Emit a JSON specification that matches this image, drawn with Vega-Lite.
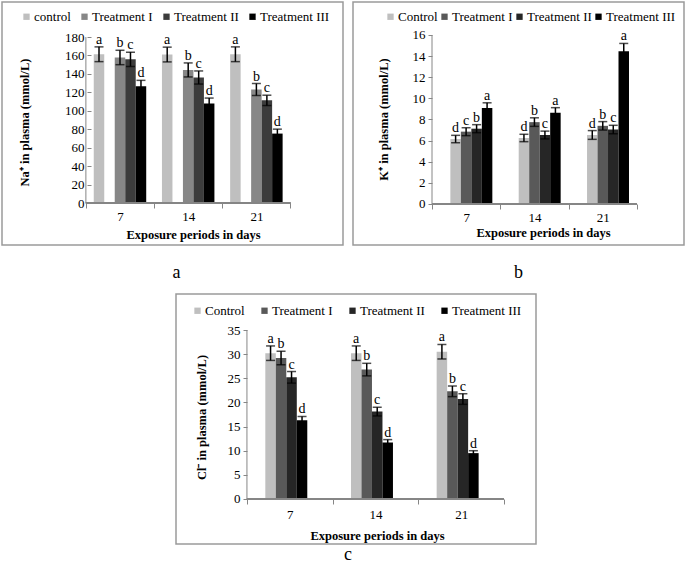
{
  "$schema": "https://vega.github.io/schema/vega-lite/v6.json",
  "background": "white",
  "padding": {"left": 1, "top": 1, "right": 0, "bottom": 0},
  "config": {
    "font": "Liberation Serif",
    "axis": {"labelFont": "Liberation Serif", "titleFont": "Liberation Serif", "labelOverlap": false},
    "legend": {"labelFont": "Liberation Serif"},
    "text": {"font": "Liberation Serif"},
    "title": {"font": "Liberation Serif"}
  },
  "datasets": {
    "na": [
      {"day": "7", "group": "control", "mean": 161.3, "lo": 153.3, "hi": 169.3, "sig": "a"},
      {"day": "7", "group": "Treatment I", "mean": 157.8, "lo": 150.0, "hi": 165.6, "sig": "b"},
      {"day": "7", "group": "Treatment II", "mean": 155.8, "lo": 148.0, "hi": 163.6, "sig": "c"},
      {"day": "7", "group": "Treatment III", "mean": 126.5, "lo": 120.0, "hi": 133.0, "sig": "d"},
      {"day": "14", "group": "control", "mean": 161.0, "lo": 153.0, "hi": 169.0, "sig": "a"},
      {"day": "14", "group": "Treatment I", "mean": 144.3, "lo": 136.7, "hi": 151.9, "sig": "b"},
      {"day": "14", "group": "Treatment II", "mean": 136.0, "lo": 129.0, "hi": 143.2, "sig": "c"},
      {"day": "14", "group": "Treatment III", "mean": 108.0, "lo": 102.0, "hi": 113.8, "sig": "d"},
      {"day": "21", "group": "control", "mean": 161.3, "lo": 153.3, "hi": 169.3, "sig": "a"},
      {"day": "21", "group": "Treatment I", "mean": 123.0, "lo": 116.5, "hi": 129.5, "sig": "b"},
      {"day": "21", "group": "Treatment II", "mean": 111.3, "lo": 105.7, "hi": 116.9, "sig": "c"},
      {"day": "21", "group": "Treatment III", "mean": 75.3, "lo": 70.5, "hi": 80.1, "sig": "d"}
    ],
    "k": [
      {"day": "7", "group": "Control", "mean": 6.15, "lo": 5.8, "hi": 6.5, "sig": "d"},
      {"day": "7", "group": "Treatment I", "mean": 6.85, "lo": 6.47, "hi": 7.22, "sig": "c"},
      {"day": "7", "group": "Treatment II", "mean": 7.13, "lo": 6.75, "hi": 7.51, "sig": "b"},
      {"day": "7", "group": "Treatment III", "mean": 9.1, "lo": 8.64, "hi": 9.58, "sig": "a"},
      {"day": "14", "group": "Control", "mean": 6.25, "lo": 5.9, "hi": 6.6, "sig": "d"},
      {"day": "14", "group": "Treatment I", "mean": 7.75, "lo": 7.35, "hi": 8.16, "sig": "b"},
      {"day": "14", "group": "Treatment II", "mean": 6.53, "lo": 6.16, "hi": 6.9, "sig": "c"},
      {"day": "14", "group": "Treatment III", "mean": 8.65, "lo": 8.18, "hi": 9.12, "sig": "a"},
      {"day": "21", "group": "Control", "mean": 6.53, "lo": 6.12, "hi": 6.95, "sig": "d"},
      {"day": "21", "group": "Treatment I", "mean": 7.4, "lo": 7.0, "hi": 7.8, "sig": "b"},
      {"day": "21", "group": "Treatment II", "mean": 7.05, "lo": 6.65, "hi": 7.45, "sig": "c"},
      {"day": "21", "group": "Treatment III", "mean": 14.45, "lo": 13.7, "hi": 15.2, "sig": "a"}
    ],
    "cl": [
      {"day": "7", "group": "Control", "mean": 30.2, "lo": 28.7, "hi": 31.7, "sig": "a"},
      {"day": "7", "group": "Treatment I", "mean": 29.2, "lo": 27.8, "hi": 30.6, "sig": "b"},
      {"day": "7", "group": "Treatment II", "mean": 25.2, "lo": 24.0, "hi": 26.4, "sig": "c"},
      {"day": "7", "group": "Treatment III", "mean": 16.3, "lo": 15.5, "hi": 17.1, "sig": "d"},
      {"day": "14", "group": "Control", "mean": 30.2, "lo": 28.7, "hi": 31.7, "sig": "a"},
      {"day": "14", "group": "Treatment I", "mean": 26.8, "lo": 25.5, "hi": 28.1, "sig": "b"},
      {"day": "14", "group": "Treatment II", "mean": 18.1, "lo": 17.2, "hi": 19.0, "sig": "c"},
      {"day": "14", "group": "Treatment III", "mean": 11.7, "lo": 11.1, "hi": 12.3, "sig": "d"},
      {"day": "21", "group": "Control", "mean": 30.5, "lo": 29.0, "hi": 32.0, "sig": "a"},
      {"day": "21", "group": "Treatment I", "mean": 22.3, "lo": 21.2, "hi": 23.4, "sig": "b"},
      {"day": "21", "group": "Treatment II", "mean": 20.7, "lo": 19.6, "hi": 21.8, "sig": "c"},
      {"day": "21", "group": "Treatment III", "mean": 9.5, "lo": 9.0, "hi": 10.0, "sig": "d"}
    ]
  },
  "vconcat": [
    {
      "hconcat": [
        {
          "width": 341, "height": 243,
          "data": {"name": "na"},
          "view": {"stroke": "#9a9a9a", "strokeWidth": 1.5, "fill": "white"},
          "title": {"text": "a", "orient": "bottom", "anchor": "middle", "offset": 33, "baseline": "alphabetic", "fontSize": 18, "fontWeight": "normal", "color": "black", "dx": 4},
          "encoding": {
            "x": {"field": "day", "type": "ordinal", "sort": ["7", "14", "21"],
              "scale": {"paddingInner": 0, "paddingOuter": 1.0833, "align": 0.615},
              "axis": {"offset": -42, "tickBand": "extent", "domain": false, "grid": false, "tickSize": 5, "tickColor": "#868686", "labelAngle": 0, "labelFontSize": 13, "labelPadding": 2, "labelColor": "black", "labelOverlap": false,
                "title": "Exposure periods in days", "titleFontSize": 12.5, "titleFontWeight": "bold", "titleX": 191, "titleY": 31, "titleBaseline": "middle", "titleAlign": "center", "titleColor": "black"}}
          },
          "layer": [
            {"mark": {"type": "bar"},
             "encoding": {
               "xOffset": {"field": "group", "type": "nominal", "sort": ["control", "Treatment I", "Treatment II", "Treatment III"], "scale": {"paddingInner": 0, "paddingOuter": 0.75}},
               "y": {"field": "mean", "type": "quantitative", "scale": {"domain": [-45.5, 217.95], "nice": false, "zero": false},
                 "axis": {"values": [0, 20, 40, 60, 80, 100, 120, 140, 160, 180], "tickCount": 30, "labelOverlap": false, "offset": -89, "domain": false, "grid": false, "tickSize": 4, "tickColor": "#868686", "labelFontSize": 13, "labelPadding": 3, "labelColor": "black",
                   "title": "Na⁺ in plasma (mmol/L)", "titleFontSize": 12.5, "titleFontWeight": "bold", "titleX": -67, "titleY": 120, "titleAngle": 270, "titleBaseline": "middle", "titleAlign": "center", "titleColor": "black"}},
               "y2": {"datum": 0},
               "color": {"field": "group", "type": "nominal", "sort": ["control", "Treatment I", "Treatment II", "Treatment III"],
                 "scale": {"domain": ["control", "Treatment I", "Treatment II", "Treatment III"], "range": ["#bfbfbf", "#878787", "#3c3c3c", "#000000"]},
                 "legend": {"orient": "none", "legendX": 18, "legendY": 8, "direction": "horizontal", "title": null, "symbolType": "square", "symbolSize": 40, "symbolStrokeWidth": 0, "labelFontSize": 13, "labelColor": "black", "labelOffset": 1, "columnPadding": 7, "padding": 0}}
             }},
            {"mark": {"type": "rule", "color": "black", "strokeWidth": 1.5},
             "encoding": {
               "xOffset": {"field": "group", "type": "nominal", "sort": ["control", "Treatment I", "Treatment II", "Treatment III"]},
               "y": {"field": "lo", "type": "quantitative"}, "y2": {"field": "hi"}}},
            {"mark": {"type": "tick", "color": "black", "size": 9, "thickness": 1.5},
             "encoding": {
               "xOffset": {"field": "group", "type": "nominal", "sort": ["control", "Treatment I", "Treatment II", "Treatment III"]},
               "y": {"field": "hi", "type": "quantitative"}}},
            {"mark": {"type": "tick", "color": "black", "size": 9, "thickness": 1.5},
             "encoding": {
               "xOffset": {"field": "group", "type": "nominal", "sort": ["control", "Treatment I", "Treatment II", "Treatment III"]},
               "y": {"field": "lo", "type": "quantitative"}}},
            {"mark": {"type": "text", "baseline": "alphabetic", "dy": -3, "fontSize": 14, "color": "black"},
             "encoding": {
               "xOffset": {"field": "group", "type": "nominal", "sort": ["control", "Treatment I", "Treatment II", "Treatment III"]},
               "y": {"field": "hi", "type": "quantitative"}, "text": {"field": "sig"}}},
            {"mark": {"type": "rect", "stroke": "#868686", "strokeWidth": 1, "fill": null},
             "encoding": {"y": {"datum": 0, "type": "quantitative"}, "y2": {"datum": 0}}},
            {"data": {"values": [{}]},
             "mark": {"type": "rule", "color": "#868686", "strokeWidth": 1},
             "encoding": {"x": {"datum": "7", "type": "ordinal", "bandPosition": 0}, "y": {"datum": 0, "type": "quantitative"}, "y2": {"datum": 180}}}
          ]
        },
        {
          "width": 331, "height": 243,
          "data": {"name": "k"},
          "view": {"stroke": "#9a9a9a", "strokeWidth": 1.5, "fill": "white"},
          "title": {"text": "b", "orient": "bottom", "anchor": "middle", "offset": 33, "baseline": "alphabetic", "fontSize": 18, "fontWeight": "normal", "color": "black", "dx": 0},
          "encoding": {
            "x": {"field": "day", "type": "ordinal", "sort": ["7", "14", "21"],
              "scale": {"paddingInner": 0, "paddingOuter": 0.922, "align": 0.627},
              "axis": {"offset": -41, "tickBand": "extent", "domain": false, "grid": false, "tickSize": 5, "tickColor": "#868686", "labelAngle": 0, "labelFontSize": 13, "labelPadding": 2, "labelColor": "black", "labelOverlap": false,
                "title": "Exposure periods in days", "titleFontSize": 12.5, "titleFontWeight": "bold", "titleX": 190, "titleY": 28, "titleBaseline": "middle", "titleAlign": "center", "titleColor": "black"}}
          },
          "layer": [
            {"mark": {"type": "bar"},
             "encoding": {
               "xOffset": {"field": "group", "type": "nominal", "sort": ["Control", "Treatment I", "Treatment II", "Treatment III"], "scale": {"paddingInner": 0, "paddingOuter": 0.733}},
               "y": {"field": "mean", "type": "quantitative", "scale": {"domain": [-3.882, 19.124], "nice": false, "zero": false},
                 "axis": {"values": [0, 2, 4, 6, 8, 10, 12, 14, 16], "tickCount": 30, "labelOverlap": false, "offset": -79, "domain": false, "grid": false, "tickSize": 4, "tickColor": "#868686", "labelFontSize": 13, "labelPadding": 3, "labelColor": "black",
                   "title": "K⁺ in plasma (mmol/L)", "titleFontSize": 12.5, "titleFontWeight": "bold", "titleX": -49, "titleY": 117, "titleAngle": 270, "titleBaseline": "middle", "titleAlign": "center", "titleColor": "black"}},
               "y2": {"datum": 0},
               "color": {"field": "group", "type": "nominal", "sort": ["Control", "Treatment I", "Treatment II", "Treatment III"],
                 "scale": {"domain": ["Control", "Treatment I", "Treatment II", "Treatment III"], "range": ["#bfbfbf", "#595959", "#262626", "#000000"]},
                 "legend": {"orient": "none", "legendX": 31, "legendY": 8, "direction": "horizontal", "title": null, "symbolType": "square", "symbolSize": 40, "symbolStrokeWidth": 0, "labelFontSize": 13, "labelColor": "black", "labelOffset": 1, "columnPadding": 0, "padding": 0}}
             }},
            {"mark": {"type": "rule", "color": "black", "strokeWidth": 1.5},
             "encoding": {
               "xOffset": {"field": "group", "type": "nominal", "sort": ["Control", "Treatment I", "Treatment II", "Treatment III"]},
               "y": {"field": "lo", "type": "quantitative"}, "y2": {"field": "hi"}}},
            {"mark": {"type": "tick", "color": "black", "size": 9, "thickness": 1.5},
             "encoding": {
               "xOffset": {"field": "group", "type": "nominal", "sort": ["Control", "Treatment I", "Treatment II", "Treatment III"]},
               "y": {"field": "hi", "type": "quantitative"}}},
            {"mark": {"type": "tick", "color": "black", "size": 9, "thickness": 1.5},
             "encoding": {
               "xOffset": {"field": "group", "type": "nominal", "sort": ["Control", "Treatment I", "Treatment II", "Treatment III"]},
               "y": {"field": "lo", "type": "quantitative"}}},
            {"mark": {"type": "text", "baseline": "alphabetic", "dy": -3, "fontSize": 14, "color": "black"},
             "encoding": {
               "xOffset": {"field": "group", "type": "nominal", "sort": ["Control", "Treatment I", "Treatment II", "Treatment III"]},
               "y": {"field": "hi", "type": "quantitative"}, "text": {"field": "sig"}}},
            {"mark": {"type": "rect", "stroke": "#868686", "strokeWidth": 1, "fill": null},
             "encoding": {"y": {"datum": 0, "type": "quantitative"}, "y2": {"datum": 0}}},
            {"data": {"values": [{}]},
             "mark": {"type": "rule", "color": "#868686", "strokeWidth": 1},
             "encoding": {"x": {"datum": "7", "type": "ordinal", "bandPosition": 0}, "y": {"datum": 0, "type": "quantitative"}, "y2": {"datum": 16}}}
          ]
        }
      ],
      "spacing": 10,
      "bounds": "flush",
      "resolve": {"scale": {"color": "independent"}, "legend": {"color": "independent"}}
    },
    {
      "hconcat": [
        {
          "width": 164, "height": 10,
          "data": {"values": []},
          "view": {"stroke": null, "fill": "white"},
          "mark": "point"
        },
        {
          "width": 360, "height": 250,
          "data": {"name": "cl"},
          "view": {"stroke": "#9a9a9a", "strokeWidth": 1.5, "fill": "white"},
          "title": {"text": "c", "orient": "bottom", "anchor": "middle", "offset": 16, "baseline": "alphabetic", "fontSize": 18, "fontWeight": "normal", "color": "black", "dx": -8},
          "encoding": {
            "x": {"field": "day", "type": "ordinal", "sort": ["7", "14", "21"],
              "scale": {"paddingInner": 0, "paddingOuter": 0.601, "align": 0.689},
              "axis": {"offset": -45, "tickBand": "extent", "domain": false, "grid": false, "tickSize": 5, "tickColor": "#868686", "labelAngle": 0, "labelFontSize": 13, "labelPadding": 4, "labelColor": "black", "labelOverlap": false,
                "title": "Exposure periods in days", "titleFontSize": 12.5, "titleFontWeight": "bold", "titleX": 201, "titleY": 36, "titleBaseline": "middle", "titleAlign": "center", "titleColor": "black"}}
          },
          "layer": [
            {"mark": {"type": "bar"},
             "encoding": {
               "xOffset": {"field": "group", "type": "nominal", "sort": ["Control", "Treatment I", "Treatment II", "Treatment III"], "scale": {"paddingInner": 0, "paddingOuter": 0.72}},
               "y": {"field": "mean", "type": "quantitative", "scale": {"domain": [-9.32, 42.456], "nice": false, "zero": false},
                 "axis": {"values": [0, 5, 10, 15, 20, 25, 30, 35], "tickCount": 30, "labelOverlap": false, "offset": -71, "domain": false, "grid": false, "tickSize": 4, "tickColor": "#868686", "labelFontSize": 13, "labelPadding": 3, "labelColor": "black",
                   "title": "Cl⁻ in plasma (mmol/L)", "titleFontSize": 12.5, "titleFontWeight": "bold", "titleX": -46, "titleY": 123, "titleAngle": 270, "titleBaseline": "middle", "titleAlign": "center", "titleColor": "black"}},
               "y2": {"datum": 0},
               "color": {"field": "group", "type": "nominal", "sort": ["Control", "Treatment I", "Treatment II", "Treatment III"],
                 "scale": {"domain": ["Control", "Treatment I", "Treatment II", "Treatment III"], "range": ["#bfbfbf", "#595959", "#262626", "#000000"]},
                 "legend": {"orient": "none", "legendX": 15, "legendY": 10, "direction": "horizontal", "title": null, "symbolType": "square", "symbolSize": 40, "symbolStrokeWidth": 0, "labelFontSize": 13, "labelColor": "black", "labelOffset": 1, "columnPadding": 13, "padding": 0}}
             }},
            {"mark": {"type": "rule", "color": "black", "strokeWidth": 1.5},
             "encoding": {
               "xOffset": {"field": "group", "type": "nominal", "sort": ["Control", "Treatment I", "Treatment II", "Treatment III"]},
               "y": {"field": "lo", "type": "quantitative"}, "y2": {"field": "hi"}}},
            {"mark": {"type": "tick", "color": "black", "size": 9, "thickness": 1.5},
             "encoding": {
               "xOffset": {"field": "group", "type": "nominal", "sort": ["Control", "Treatment I", "Treatment II", "Treatment III"]},
               "y": {"field": "hi", "type": "quantitative"}}},
            {"mark": {"type": "tick", "color": "black", "size": 9, "thickness": 1.5},
             "encoding": {
               "xOffset": {"field": "group", "type": "nominal", "sort": ["Control", "Treatment I", "Treatment II", "Treatment III"]},
               "y": {"field": "lo", "type": "quantitative"}}},
            {"mark": {"type": "text", "baseline": "alphabetic", "dy": -3, "fontSize": 14, "color": "black"},
             "encoding": {
               "xOffset": {"field": "group", "type": "nominal", "sort": ["Control", "Treatment I", "Treatment II", "Treatment III"]},
               "y": {"field": "hi", "type": "quantitative"}, "text": {"field": "sig"}}},
            {"mark": {"type": "rect", "stroke": "#868686", "strokeWidth": 1, "fill": null},
             "encoding": {"y": {"datum": 0, "type": "quantitative"}, "y2": {"datum": 0}}},
            {"data": {"values": [{}]},
             "mark": {"type": "rule", "color": "#868686", "strokeWidth": 1},
             "encoding": {"x": {"datum": "7", "type": "ordinal", "bandPosition": 0}, "y": {"datum": 0, "type": "quantitative"}, "y2": {"datum": 35}}}
          ]
        }
      ],
      "spacing": 10,
      "bounds": "flush",
      "resolve": {"scale": {"color": "independent"}, "legend": {"color": "independent"}}
    }
  ],
  "spacing": 10,
  "bounds": "full",
  "resolve": {"scale": {"color": "independent"}, "legend": {"color": "independent"}}
}
